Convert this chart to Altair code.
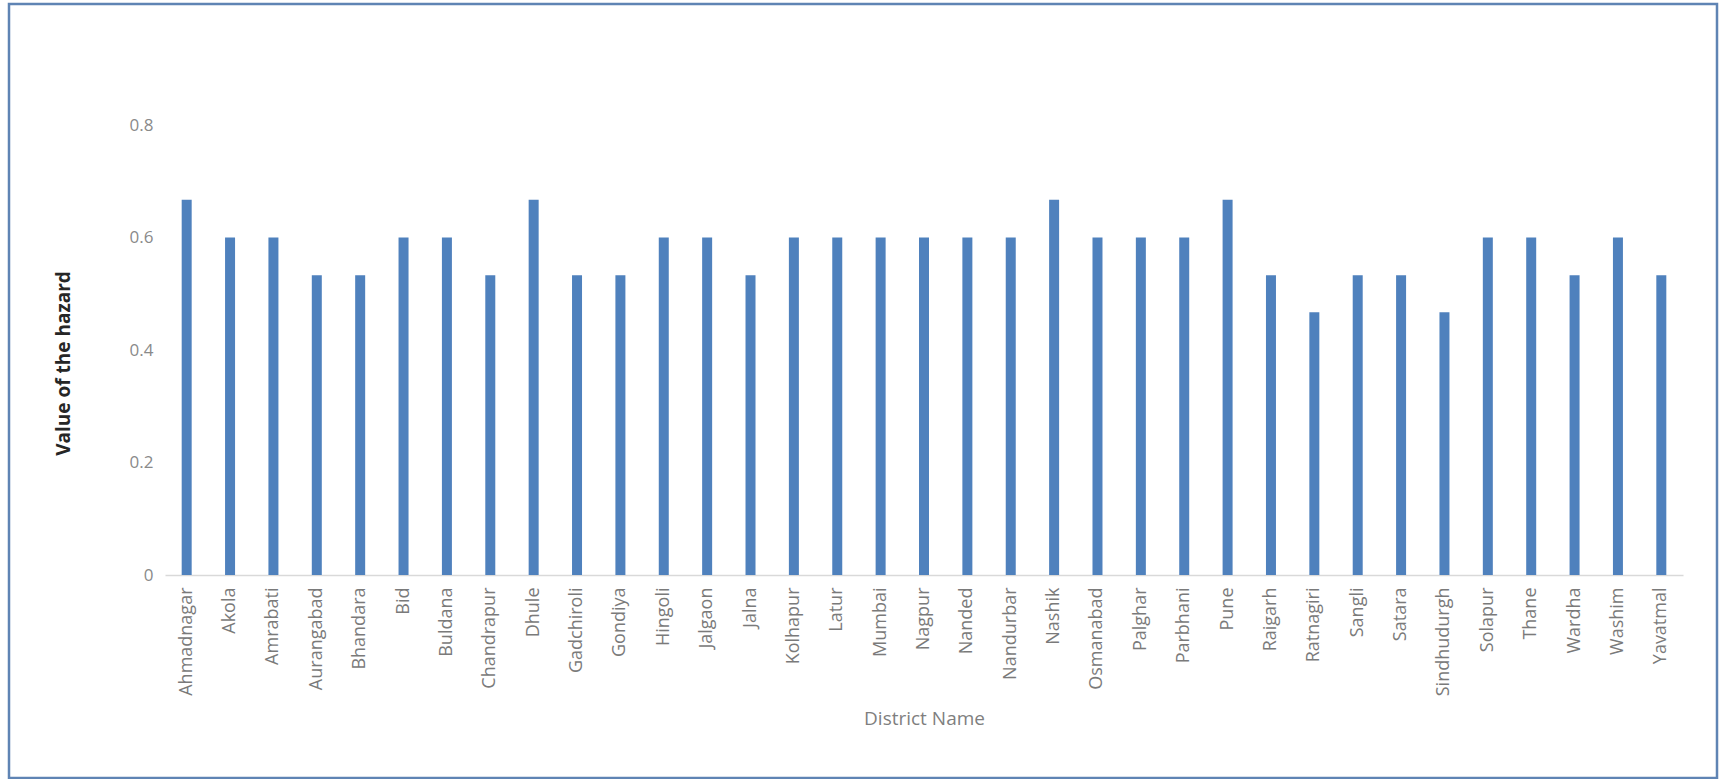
import altair as alt
import pandas as pd

districts = ["Ahmadnagar", "Akola", "Amrabati", "Aurangabad", "Bhandara", "Bid", "Buldana",
             "Chandrapur", "Dhule", "Gadchiroli", "Gondiya", "Hingoli", "Jalgaon", "Jalna",
             "Kolhapur", "Latur", "Mumbai", "Nagpur", "Nanded", "Nandurbar", "Nashik",
             "Osmanabad", "Palghar", "Parbhani", "Pune", "Raigarh", "Ratnagiri", "Sangli",
             "Satara", "Sindhudurgh", "Solapur", "Thane", "Wardha", "Washim", "Yavatmal"]
values = [0.667, 0.6, 0.6, 0.533, 0.533, 0.6, 0.6,
          0.533, 0.667, 0.533, 0.533, 0.6, 0.6, 0.533,
          0.6, 0.6, 0.6, 0.6, 0.6, 0.6, 0.667,
          0.6, 0.6, 0.6, 0.667, 0.533, 0.467, 0.533,
          0.533, 0.467, 0.6, 0.6, 0.533, 0.6, 0.533]
y_ticks = [0, 0.2, 0.4, 0.6, 0.8]

df = pd.DataFrame({"District Name": districts, "Value": values})

FONT = "Open Sans"

bars = alt.Chart(df).mark_bar(size=10, color="#4f81bd").encode(
    x=alt.X("District Name:N", sort=None,
            scale=alt.Scale(paddingInner=0.5, paddingOuter=0.25),
            axis=alt.Axis(title="District Name", labelAngle=-90, ticks=False,
                          labelPadding=12, labelFontSize=18, labelColor="#7a7a7a",
                          labelFont=FONT, domainColor="#d9d9d9", domainWidth=1.5,
                          titleFont=FONT, titleFontSize=19, titleFontWeight="normal",
                          titleColor="#7f7f7f", titleY=143, titleBaseline="middle")),
    y=alt.Y("Value:Q", scale=alt.Scale(domain=[0, 0.8], nice=False),
            axis=alt.Axis(title="Value of the hazard", values=y_ticks, grid=False,
                          domain=False, ticks=False, labelPadding=12,
                          labelExpr="format(datum.value, '.1~f')",
                          labelFont=FONT, labelFontSize=17, labelColor="#8a8a8a",
                          titleFont=FONT, titleFontSize=19, titleFontWeight="bold",
                          titleColor="#262626", titleX=-102, titleY=238,
                          titleBaseline="middle", titleAngle=-90)),
)

border = alt.Chart(pd.DataFrame({"a": [0]})).mark_rect(
    fill=None, stroke="#5f84b4", strokeWidth=2.5
).encode(
    x=alt.value(-156), x2=alt.value(1552), y=alt.value(-121), y2=alt.value(653)
)

chart = alt.layer(bars, border).properties(
    width=1518, height=450,
    autosize=alt.AutoSizeParams(type="none"),
    padding={"left": 165, "top": 125, "right": 41, "bottom": 204},
    background="white",
).configure_view(stroke=None)

chart.save("out.html", embed_options={"renderer": "svg", "actions": False})
